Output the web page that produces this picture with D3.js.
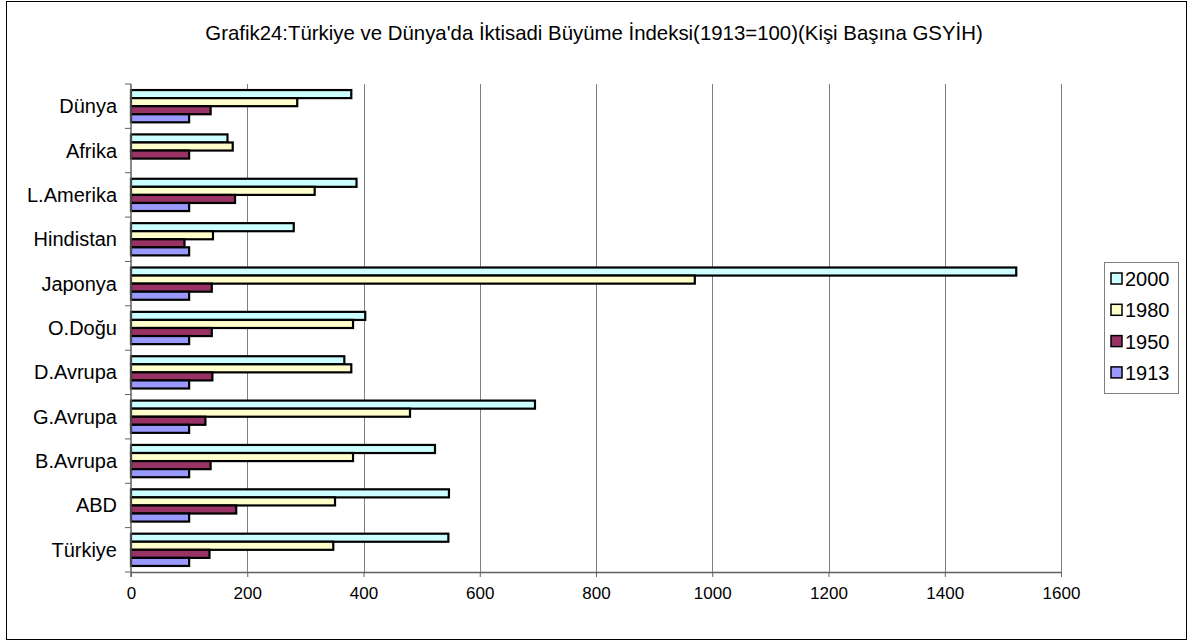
<!DOCTYPE html>
<html>
<head>
<meta charset="utf-8">
<script src="https://cdn.jsdelivr.net/npm/d3@7"></script>
<style>
  html, body { margin: 0; padding: 0; background: #fff; }
  svg text { font-family: "Liberation Sans", Arial, sans-serif; fill: #000; }
</style>
</head>
<body>
<svg id="chart" width="1188" height="643"></svg>
<script>
// Regions, listed top to bottom as drawn
const categories = ["Dünya", "Afrika", "L.Amerika", "Hindistan", "Japonya", "O.Doğu",
                    "D.Avrupa", "G.Avrupa", "B.Avrupa", "ABD", "Türkiye"];
// Series, drawn top to bottom inside each group
const seriesNames = ["2000", "1980", "1950", "1913"];
const values2000 = [379, 166, 388, 280, 1523, 403, 367, 695, 523, 547, 546];
const values1980 = [286, 175, 316, 141, 970, 382, 379, 480, 382, 351, 348];
const values1950 = [137, 100, 179, 92, 139, 139, 140, 128, 137, 181, 135];
const values1913 = [100, null, 100, 100, 100, 100, 100, 100, 100, 100, 100];
const xTicks = [0, 200, 400, 600, 800, 1000, 1200, 1400, 1600];
const seriesColors = ["#CCFFFF", "#FFFFCC", "#993366", "#9999FF"];
const title = "Grafik24:Türkiye ve Dünya'da İktisadi Büyüme İndeksi(1913=100)(Kişi Başına GSYİH)";

const seriesValues = [values2000, values1980, values1950, values1913];

const svg = d3.select("#chart");

// outer frame
svg.append("rect")
  .attr("x", 6.5).attr("y", 1.5).attr("width", 1180).attr("height", 638)
  .attr("fill", "#fff").attr("stroke", "#000").attr("stroke-width", 1);

svg.append("text")
  .attr("x", 594).attr("y", 40)
  .attr("text-anchor", "middle")
  .attr("font-size", 20.4)
  .text(title);

const plot = { left: 131, right: 1061, top: 84, bottom: 572 };

const x = d3.scaleLinear().domain([0, 1600]).range([plot.left, plot.right]);
const y = d3.scaleBand().domain(categories).range([plot.top, plot.bottom]).paddingInner(0).paddingOuter(0);

// series offset inside each category band (150% gap)
const barH = y.bandwidth() / 5.5;
const groupPad = (y.bandwidth() - 4 * barH) / 2;

// vertical gridlines
svg.append("g")
  .selectAll("line")
  .data(xTicks.filter(t => t > 0))
  .join("line")
  .attr("x1", d => Math.round(x(d)) + 0.5).attr("x2", d => Math.round(x(d)) + 0.5)
  .attr("y1", plot.top).attr("y2", plot.bottom)
  .attr("stroke", "#808080").attr("stroke-width", 1);

// bars
const rows = [];
categories.forEach((c, i) => {
  seriesValues.forEach((vals, s) => {
    if (vals[i] != null) rows.push({ cat: c, s, v: vals[i] });
  });
});

svg.append("g")
  .selectAll("rect")
  .data(rows)
  .join("rect")
  .attr("x", x(0))
  .attr("y", d => y(d.cat) + groupPad + d.s * barH)
  .attr("width", d => x(d.v) - x(0))
  .attr("height", barH)
  .attr("fill", d => seriesColors[d.s])
  .attr("stroke", "#000")
  .attr("stroke-width", 2.2);

// x axis
const xAxis = svg.append("g")
  .attr("transform", `translate(0,${plot.bottom})`)
  .call(d3.axisBottom(x).tickValues(xTicks).tickFormat(d3.format("d"))
    .tickSize(5).tickSizeOuter(0).tickPadding(8));
xAxis.select(".domain").attr("stroke", "#606060").attr("stroke-width", 1.5);
xAxis.selectAll(".tick line").attr("stroke", "#606060");
xAxis.selectAll("text").attr("font-size", 17).attr("font-family", "Liberation Sans, Arial, sans-serif").attr("dy", "0.85em");

// y axis: ticks at band boundaries, labels centred in each band
const yAxisG = svg.append("g").attr("transform", `translate(${plot.left},0)`);
yAxisG.append("line")
  .attr("x1", 0).attr("x2", 0).attr("y1", plot.top).attr("y2", plot.bottom + 5)
  .attr("stroke", "#606060").attr("stroke-width", 1.5);
const bounds = categories.map(c => y(c)).concat([plot.bottom]);
yAxisG.selectAll("line.tk")
  .data(bounds)
  .join("line")
  .attr("class", "tk")
  .attr("x1", -6).attr("x2", 0)
  .attr("y1", d => d).attr("y2", d => d)
  .attr("stroke", "#606060").attr("stroke-width", 1);
yAxisG.selectAll("text")
  .data(categories)
  .join("text")
  .attr("x", -14)
  .attr("y", d => y(d) + y.bandwidth() / 2)
  .attr("dy", "0.35em")
  .attr("text-anchor", "end")
  .attr("font-size", 20)
  .text(d => d);

// legend
const legend = svg.append("g");
legend.append("rect")
  .attr("x", 1104.5).attr("y", 262.5).attr("width", 74).attr("height", 131)
  .attr("fill", "#fff").attr("stroke", "#808080").attr("stroke-width", 1);
const li = legend.selectAll("g.item")
  .data(seriesNames)
  .join("g")
  .attr("class", "item")
  .attr("transform", (d, i) => `translate(1111,${279 + i * 31.3})`);
li.append("rect")
  .attr("x", 0).attr("y", -6).attr("width", 11).attr("height", 11)
  .attr("fill", (d, i) => seriesColors[i])
  .attr("stroke", "#000").attr("stroke-width", 1.5);
li.append("text")
  .attr("x", 14).attr("y", 0).attr("dy", "0.35em")
  .attr("font-size", 20)
  .text(d => d);
</script>
</body>
</html>
